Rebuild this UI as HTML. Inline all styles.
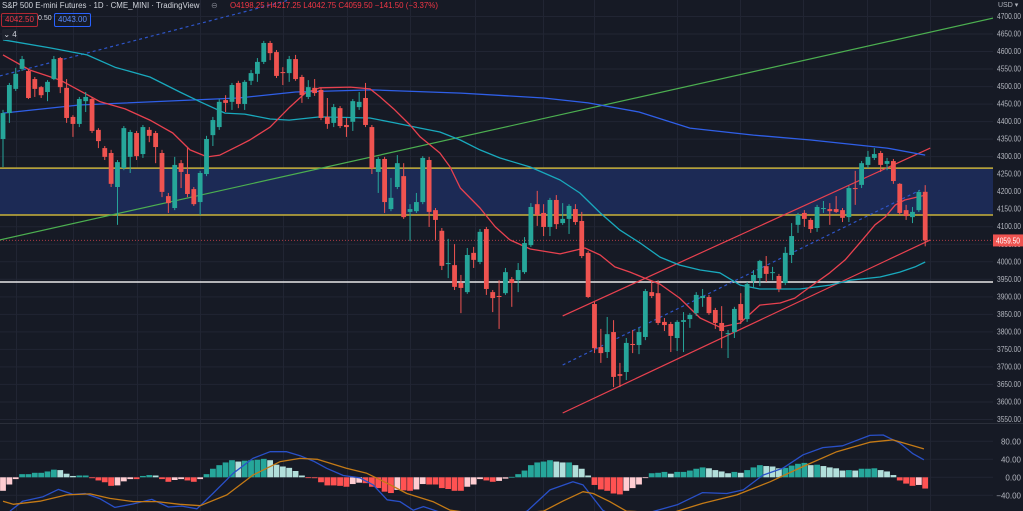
<!DOCTYPE html>
<html><head><meta charset="utf-8"><style>
html,body{margin:0;padding:0;background:#161a25;width:1023px;height:511px;overflow:hidden;font-family:"Liberation Sans",sans-serif}
#wrap{position:relative;width:1023px;height:511px}
svg{position:absolute;left:0;top:0}
.hdr{position:absolute;top:1px;font-size:7.9px;color:#d1d4dc;white-space:nowrap}
.r{color:#f23645}
.box{position:absolute;top:13px;height:12px;font-size:8px;line-height:12px;padding:0 3px;border-radius:2px}
</style></head><body>
<div id="wrap">
<svg id="c" width="1023" height="511"></svg>
<div class="hdr" style="left:2px">S&amp;P 500 E-mini Futures · 1D · CME_MINI · TradingView</div>
<div class="hdr" style="left:211px;color:#787b86">⊖</div>
<div class="hdr r" style="left:230px">O4198.25 H4217.25 L4042.75 C4059.50 −141.50 (−3.37%)</div>
<div class="box" style="left:1px;border:1px solid #b22833;color:#f23645">4042.50</div>
<div style="position:absolute;left:38px;top:13px;font-size:7px;line-height:12px;color:#d1d4dc">0.50</div>
<div class="box" style="left:54px;border:1px solid #2962ff;color:#5b8cff">4043.00</div>
<div style="position:absolute;left:2px;top:29px;width:16px;height:11px;background:#1e222d;color:#d1d4dc;font-size:8px;line-height:11px;text-align:center;border-radius:2px">⌄ 4</div>
</div>
<script>
const opens=[4349,4423,4492,4549,4543,4520,4497,4483,4520,4580,4495,4412,4392,4457,4463,4375,4323,4309,4212,4266,4298,4366,4306,4375,4366,4309,4186,4152,4280,4249,4206,4169,4249,4360,4383,4460,4455,4509,4449,4515,4535,4569,4623,4597,4540,4537,4577,4526,4469,4495,4489,4412,4395,4437,4389,4398,4440,4466,4383,4255,4292,4149,4212,4243,4141,4143,4169,4289,4146,4087,3992,3989,3938,3912,4024,3998,4092,3912,3901,3909,3949,3946,3969,4046,4163,4138,4098,4175,4109,4121,4149,4115,4024,3878,3755,3741,3798,3678,3684,3764,3761,3784,3912,3909,3827,3821,3781,3827,3835,3852,3895,3898,3861,3824,3792,3798,3878,3835,3944,3952,3986,3967,3958,3938,4018,4104,4138,4118,4095,4149,4149,4149,4146,4126,4209,4218,4275,4295,4309,4278,4286,4221,4146,4126,4146,4198.25];
const highs=[4432,4509,4552,4586,4549,4526,4500,4517,4586,4583,4520,4417,4469,4483,4469,4380,4329,4318,4289,4386,4375,4372,4389,4383,4372,4318,4195,4298,4289,4323,4212,4258,4358,4412,4463,4474,4509,4515,4517,4546,4580,4629,4629,4603,4554,4586,4589,4532,4517,4520,4495,4466,4449,4443,4409,4463,4483,4509,4389,4298,4298,4238,4303,4280,4163,4195,4300,4298,4152,4095,4064,4049,3961,4038,4041,4092,4098,3918,3946,3981,3955,3995,4069,4166,4201,4163,4181,4189,4166,4163,4163,4141,4029,3884,3807,3841,3832,3710,3781,3804,3810,3921,3944,3946,3838,3827,3832,3855,3852,3912,3921,3904,3867,3872,3804,3870,3909,3941,3975,4004,4015,3984,3964,4041,4109,4138,4146,4123,4161,4172,4166,4186,4152,4215,4258,4286,4315,4323,4315,4295,4292,4223,4161,4155,4203,4217.25];
const lows=[4269,4395,4486,4543,4463,4469,4466,4457,4517,4480,4395,4355,4383,4426,4366,4323,4289,4212,4104,4260,4252,4289,4295,4340,4280,4183,4138,4146,4209,4183,4158,4132,4243,4329,4375,4426,4432,4437,4432,4503,4512,4563,4574,4523,4503,4512,4515,4452,4463,4472,4403,4378,4383,4380,4355,4372,4432,4383,4249,4195,4138,4143,4206,4121,4058,4138,4163,4098,4061,3975,3952,3918,3852,3907,3981,3992,3904,3855,3807,3904,3870,3912,3964,4041,4101,4072,4072,4092,4104,4078,4104,4009,3895,3738,3710,3724,3641,3641,3661,3738,3735,3775,3895,3818,3801,3741,3744,3741,3810,3844,3870,3847,3807,3752,3724,3781,3821,3827,3924,3929,3941,3946,3912,3932,3995,4081,4098,4081,4084,4138,4104,4138,4112,4112,4161,4209,4266,4289,4255,4260,4221,4132,4118,4109,4141,4042.75];
const closes=[4423,4503,4535,4577,4466,4492,4474,4512,4577,4497,4409,4392,4463,4469,4372,4343,4298,4221,4283,4380,4369,4300,4383,4358,4326,4198,4166,4275,4255,4192,4163,4252,4349,4403,4455,4452,4503,4449,4512,4537,4569,4623,4594,4529,4537,4577,4520,4474,4497,4480,4409,4392,4440,4386,4383,4457,4455,4389,4266,4292,4169,4181,4280,4126,4149,4169,4295,4141,4118,3987,3995,3927,3924,4018,4004,4084,3921,3895,3898,3969,3938,3975,4052,4155,4132,4098,4175,4106,4121,4158,4112,4015,3898,3752,3738,3792,3670,3673,3767,3761,3798,3915,3901,3824,3818,3787,3827,3832,3847,3904,3901,3852,3824,3801,3795,3864,3832,3935,3961,4001,3964,3969,3921,4024,4072,4132,4121,4092,4155,4152,4143,4141,4124,4209,4206,4280,4298,4306,4275,4286,4229,4138,4129,4141,4198,4059.5];
const histogram=[-30,-16,-4,7,7,10,10,13,17,16,8,3,4,4,-2,-7,-11,-19,-18,-9,-4,-4,3,5,4,-4,-10,-6,-4,-7,-10,-4,7,19,27,33,38,35,37,38,39,41,38,28,24,21,14,4,-1,-2,-11,-18,-18,-19,-21,-15,-12,-13,-21,-24,-32,-35,-28,-29,-30,-27,-15,-16,-16,-24,-26,-30,-30,-21,-16,-4,-7,-10,-8,-3,1,7,15,27,33,35,38,35,33,33,27,19,4,-17,-27,-30,-36,-38,-30,-24,-16,-1,9,10,12,8,12,12,15,19,22,20,16,13,9,12,10,16,22,27,25,24,20,21,26,30,32,27,28,25,22,20,15,16,15,19,19,20,16,13,5,-7,-14,-19,-17,-25];
const ma20=[[0,4589],[4.2,4546],[9,4517],[15.3,4455],[19.2,4435],[23.1,4403],[26.7,4366],[29.4,4318],[32.1,4298],[34.1,4303],[37.3,4332],[38.8,4346],[42,4383],[45.1,4440],[47.5,4480],[49.8,4495],[54.6,4497],[57.7,4492],[59.3,4469],[61.6,4432],[64,4389],[65.6,4355],[68.7,4309],[70.3,4269],[71.9,4209],[75,4152],[77.4,4098],[79.7,4061],[82.9,4035],[87.6,4021],[91.5,4038],[93.9,4018],[96.2,3984],[98.6,3969],[100.9,3952],[103.3,3935],[106.4,3895],[109.6,3838],[112.7,3812],[115.9,3824],[119,3875],[122.2,3881],[124.5,3895],[126.9,3927],[130,3967],[132.4,4004],[134.7,4052],[137.1,4104],[138.7,4126],[140.3,4161],[141.8,4175],[145,4189]];
const ma50=[[0,4632],[7.4,4609],[13.2,4589],[17.6,4554],[23.1,4526],[27.8,4483],[31,4455],[34.9,4423],[38,4420],[42,4406],[45,4403],[49.8,4412],[57.7,4409],[61.6,4395],[65.6,4380],[68.7,4369],[71.9,4346],[75,4318],[78.1,4295],[82.9,4269],[87.6,4232],[90.7,4195],[93.9,4138],[97,4089],[100.2,4052],[103.3,4012],[106.4,3989],[109.6,3975],[112.7,3967],[115.9,3932],[119,3921],[125.3,3921],[130,3932],[133.2,3946],[137.9,3955],[141,3969],[143.4,3984],[145,3998]];
const ma200=[[0,4423],[12,4446],[37,4466],[46,4483],[58,4489],[72,4480],[85,4466],[92,4452],[100,4426],[108,4380],[118,4360],[127,4346],[139,4323],[145,4303]];
const macdLine=[[1.1,-75],[3.1,-53],[6.3,-43],[8.7,-27],[11,-38],[12.9,-36],[15.3,-48],[17.6,-67],[20.5,-59],[23.4,-49],[26,-66],[28.1,-64],[30.5,-70],[33,-36],[36.2,9],[39.3,42],[42,57],[44.6,57],[46.7,48],[48.8,36],[50.9,20],[53.5,4],[56.1,-1],[58.2,-17],[60.4,-50],[62.4,-54],[64.5,-73],[66.1,-65],[68.2,-75],[71.9,-90],[78,-95],[82.4,-75],[86,-28],[89.6,-10],[91.2,-17],[94.3,-73],[97.8,-100],[101.7,-78],[106,-61],[110,-34],[113.8,-36],[116.4,-28],[119.5,5],[122.6,20],[125.8,50],[128.9,66],[132,70],[136.3,93],[138.4,94],[141,76],[143,53],[144.8,39]];
const signalLine=[[0,-53],[1.6,-60],[5.8,-53],[10,-39],[13.7,-37],[16.8,-47],[20.5,-54],[24.2,-54],[27.8,-60],[31,-63],[35.2,-39],[39.3,5],[43.6,35],[46.7,42],[49.4,40],[54,20],[57.2,9],[60.4,-13],[63.5,-36],[67.6,-54],[70.3,-73],[76.6,-85],[85,-75],[88,-53],[91.2,-32],[92.8,-36],[95.4,-54],[98,-75],[104.9,-80],[110,-58],[115.4,-39],[120.6,-10],[125.8,24],[131.1,57],[136.3,78],[139.9,83],[144.8,63]];
const priceTicks=[4700,4650,4600,4550,4500,4450,4400,4350,4300,4250,4200,4150,4100,4050,4000,3950,3900,3850,3800,3750,3700,3650,3600,3550];
const macdTicks=[80,40,0,-40];
const levels=[4266,4132];
const supportLevel=3941;
const lastPrice=4059.5;

const svg=document.getElementById('c');
const NS='http://www.w3.org/2000/svg';
const X=i=>3+i*6.36;
const Y=p=>16+(4700-p)*0.3504;
const MY=v=>477.3-v*0.45;
function mk(tag,attrs,parent){const e=document.createElementNS(NS,tag);for(const k in attrs)e.setAttribute(k,attrs[k]);(parent||svg).appendChild(e);return e;}

const defs=mk('defs',{});
const cp=mk('clipPath',{id:'pc'},defs);mk('rect',{x:0,y:0,width:993,height:422},cp);
const cm=mk('clipPath',{id:'mc'},defs);mk('rect',{x:0,y:424,width:993,height:87},cm);

const grid=mk('g',{stroke:'#212533','stroke-width':1});


priceTicks.forEach(p=>{mk('line',{x1:0,x2:993,y1:Y(p)+.5,y2:Y(p)+.5},grid);});
macdTicks.forEach(v=>{mk('line',{x1:0,x2:993,y1:MY(v),y2:MY(v)},grid);});
[16,73,137,200,283,347,410,475,543,594,677,740,803,867,930].forEach(x=>{mk('line',{x1:x+.5,x2:x+.5,y1:0,y2:511},grid);});
const sep=mk('line',{x1:0,x2:1023,y1:423.5,y2:423.5,stroke:'#2a2e39','stroke-width':1});



const main=mk('g',{'clip-path':'url(#pc)'});
const zone=mk('rect',{x:0,y:Y(levels[0]),width:993,height:Y(levels[1])-Y(levels[0]),fill:'#1c2a55'},main);


levels.forEach((l,k)=>{const e=mk('line',{x1:0,x2:993,y1:Y(l),y2:Y(l),stroke:'#c9b23a','stroke-width':1.5},main);

});
const sup=mk('line',{x1:0,x2:993,y1:Y(supportLevel),y2:Y(supportLevel),stroke:'#e8e8e8','stroke-width':1.5},main);


const lp=mk('line',{x1:0,x2:993,y1:Y(lastPrice),y2:Y(lastPrice),stroke:'#a83a44','stroke-width':1,'stroke-dasharray':'1,2'},main);



function seg(a,b,col,dash,name){const e=mk('line',{x1:X(a[0]),y1:Y(a[1]),x2:X(b[0]),y2:Y(b[1]),stroke:col,'stroke-width':1.2},main);if(dash)e.setAttribute('stroke-dasharray',dash);

}
seg([-0.5,4061],[155.7,4694],'#4caf50',null,'long-trendline');
seg([-0.5,4529],[45.1,4746],'#2e55c8','3,3','dashed-trendline-1');
seg([88,3704],[144.2,4203],'#2e55c8','3,3','dashed-trendline-2');
seg([88,3844],[145.8,4323],'#e8414f',null,'channel-upper');
seg([88,3567],[145.8,4061],'#e8414f',null,'channel-lower');

function pl(pts,fx,fy,col,name,parent){const d=pts.map((p,i)=>(i?'L':'M')+fx(p[0]).toFixed(1)+','+fy(p[1]).toFixed(1)).join('');const e=mk('path',{d:d,fill:'none',stroke:col,'stroke-width':1.3,'stroke-linejoin':'round'},parent);

}
pl(ma200,X,Y,'#2f5fe8','ma-200-line',main);
pl(ma50,X,Y,'#19a9bd','ma-50-line',main);
pl(ma20,X,Y,'#e8414f','ma-20-line',main);

for(let i=0;i<closes.length;i++){
  const up=closes[i]>=opens[i];const col=up?'#26a69a':'#ef5350';
  const g=mk('g',{},main);
  
  
  const x=X(i);
  mk('line',{x1:x,x2:x,y1:Y(highs[i]),y2:Y(lows[i]),stroke:col,'stroke-width':1},g);
  const t=Y(Math.max(opens[i],closes[i])),b=Y(Math.min(opens[i],closes[i]));
  mk('rect',{x:x-2.4,y:t,width:4.8,height:Math.max(1,b-t),fill:col},g);
}

const mg=mk('g',{'clip-path':'url(#mc)'});
for(let i=0;i<histogram.length;i++){
  const v=histogram[i],pv=i?histogram[i-1]:v;
  let col;
  if(v>=0)col=(v>=pv)?'#26a69a':'#b2dfdb';else col=(v<=pv&&i>0)?'#ff5252':'#ffcdd2';
  const y0=MY(0),y1=MY(v);
  const r=mk('rect',{x:X(i)-2.9,y:Math.min(y0,y1),width:5.8,height:Math.max(0.8,Math.abs(y1-y0)),fill:col},mg);
  
  
}
pl(macdLine,X,MY,'#2950c8','macd-line',mg);
pl(signalLine,X,MY,'#c47a16','signal-line',mg);

const ax=mk('g',{fill:'#b2b5be','font-size':'8','font-family':'Liberation Sans, sans-serif'});


priceTicks.forEach(p=>{const t=mk('text',{x:997,y:Y(p)+3,textLength:24,lengthAdjust:'spacingAndGlyphs'},ax);t.textContent=p.toFixed(2);});
const ma=mk('g',{fill:'#b2b5be','font-size':'8','font-family':'Liberation Sans, sans-serif'});


macdTicks.forEach(v=>{const s=(v<0?'−':'')+Math.abs(v).toFixed(2);const t=mk('text',{x:1021,y:MY(v)+3,'text-anchor':'end'},ma);t.textContent=s;});
const usd=mk('text',{x:998,y:7,fill:'#b2b5be','font-size':'7'});usd.textContent='USD ▾';


const lb=mk('g',{});


mk('rect',{x:993,y:Y(lastPrice)-6,width:30,height:12,fill:'#ef5350'},lb);
const lt=mk('text',{x:996,y:Y(lastPrice)+3,fill:'#fff','font-size':'8',textLength:24,lengthAdjust:'spacingAndGlyphs'},lb);lt.textContent=lastPrice.toFixed(2);
</script>
</body></html>
